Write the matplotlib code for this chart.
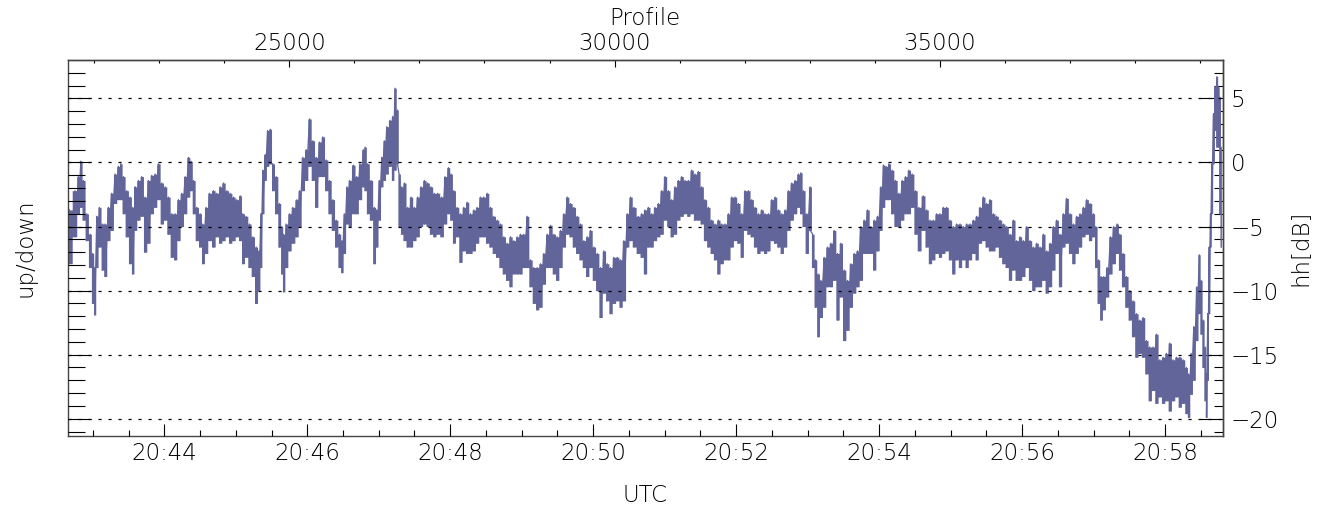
import numpy as np
import matplotlib
matplotlib.use("Agg")
import matplotlib.pyplot as plt
from matplotlib.ticker import FixedLocator, FuncFormatter, NullFormatter

# Tiempo en segundos despues de las 20:42:00 UTC
segundos = [
    40.3, 45.1, 47.9, 49.9, 52.1, 54.9, 57.7, 59.9, 61.6, 63.3,
    65.5, 68.3, 70.3, 73.1, 75.9, 78.7, 81.5, 83.5, 85.7, 88.5,
    91.3, 93.5, 95.5, 98.3, 101.1, 103.9, 106.7, 109.5, 112.3, 115.1,
    117.9, 120.7, 123.5, 126.3, 129.1, 131.9, 134.7, 137.5, 140.3, 142.5,
    144.5, 147.3, 150.1, 152.3, 155.1, 157.9, 161.3, 164.1, 166.9, 169.7,
    172.5, 175.3, 178.1, 180.9, 183.7, 185.9, 188.7, 191.5, 194.3, 197.1,
    199.4, 201.1, 202.7, 204.7, 206.7, 208.9, 211.1, 213.9, 216.7, 218.7,
    220.1, 222.3, 225.1, 227.9, 231.3, 233.5, 236.3, 239.1, 241.9, 244.7,
    247.5, 250.3, 253.1, 255.9, 258.7, 261.5, 264.3, 267.1, 269.1, 271.1,
    273.3, 275.5,
    278.7, 281.5, 284.3, 287.1, 288.5, 290.7, 293.5, 296.3, 298.3, 300.5,
    302.5, 304.7, 306.7, 309.5, 311.7, 313.7, 315.7, 317.1, 319.3, 321.5,
    324.3, 327.1, 329.9, 332.7, 335.5, 338.3, 341.1, 343.9, 346.7, 349.5,
    352.9, 355.7, 358.5, 360.7, 363.0, 365.8, 368.6, 371.4, 374.2, 377.0,
    379.8, 382.6, 385.4, 388.2, 391.0, 393.8, 396.6, 399.4, 402.2, 405.0,
    407.8, 410.6, 413.4, 416.2, 419.0, 421.8, 424.6, 427.4, 430.2, 433.0,
    435.8, 438.6, 441.4, 444.2, 447.0, 449.8, 452.6, 455.4, 458.2, 461.0,
    463.8, 466.6, 469.4, 472.2, 475.0, 477.8, 480.6, 483.4, 486.2, 489.0,
    491.8, 494.6, 497.4, 500.2, 503.0, 505.8, 508.6, 511.4, 514.2,
    517.9, 520.7, 523.5, 526.3, 529.1, 531.9, 534.7, 537.5, 540.3, 543.1,
    545.9, 548.7, 551.5, 554.3, 557.1, 559.9, 562.7, 565.5, 568.3, 571.1,
    573.9, 576.7, 579.5, 582.3, 585.1, 587.9, 590.7, 593.5, 596.3, 599.1,
    601.9, 604.7, 607.5, 610.3, 613.1, 615.9, 618.7, 621.5, 624.3, 627.1,
    629.9, 632.7, 635.5, 638.3, 641.1, 643.9, 646.7, 649.5, 652.3, 654.3,
    656.5, 659.3, 662.1, 664.3, 666.6, 668.8, 671.1,
    673.9, 676.7, 679.5, 682.3, 685.1, 687.9, 690.7, 693.5, 696.3, 699.1,
    701.9, 704.7, 707.5, 710.3, 713.1, 715.9, 718.7, 721.5, 723.7, 725.9,
    728.2, 731.0, 733.8, 736.6, 739.4, 742.2, 745.0, 747.8, 750.6, 753.4,
    757.1, 759.9, 762.7, 765.5, 768.3, 771.1, 773.9, 776.7, 779.5, 782.3,
    785.1, 787.9, 790.7, 793.5, 796.3, 799.1, 801.9, 804.7, 807.5, 810.3,
    813.1, 815.9, 818.7, 821.5, 824.3, 827.1, 829.9, 832.7, 835.5, 838.3,
    841.1, 843.9, 846.7, 849.5, 852.3, 855.1, 857.9, 860.7, 863.5, 866.3,
    869.1, 871.9, 874.7, 877.5, 880.3, 883.1, 885.9, 888.7, 891.5, 894.3,
    897.1, 899.9, 901.9, 904.1, 906.3, 908.6, 911.4, 914.2, 917.0, 919.8,
    922.0, 924.8, 927.6, 930.4, 933.2, 936.0, 938.8, 941.6, 944.4, 947.2,
    950.0, 952.8, 955.6, 958.4, 961.2, 964.0, 966.8, 969.6, 972.4, 975.2,
    978.0, 979.7, 981.9, 984.2, 986.7, 988.7, 990.3, 992.0, 993.7, 994.8,
    995.9, 997.1, 998.2, 999.3, 1000.7, 1002.1, 1003.5, 1004.9, 1006.0, 1007.1,
]

# Borde superior de la traza hh [dB]
hhAlto = [
    -3.7, -2.2, -1.1, 0.1, -1.4, -4.0, -5.6, -7.1, -8.2, -4.2,
    -3.5, -4.8, -4.8, -3.5, -2.4, -0.9, -0.3, -0.1, -1.1, -2.2,
    -2.7, -3.5, -1.9, -1.4, -1.1, -2.7, -1.4, -1.0, -0.9, -0.1,
    -1.6, -1.9, -2.7, -4.0, -4.0, -2.9, -2.4, -1.1, 0.4, 0.1,
    -1.4, -3.5, -4.0, -4.8, -3.5, -2.4, -2.2, -2.4, -1.9, -1.6,
    -2.2, -2.4, -2.7, -2.9, -2.6, -4.0, -4.2, -4.8, -5.8, -6.6,
    -6.9, -4.0, -0.6, 0.6, 2.5, 2.6, -0.1, -1.1, -3.2, -5.0,
    -5.6, -4.8, -4.0, -3.5, -2.9, -2.2, 0.4, 1.0, 3.4, 1.7,
    0.4, 1.6, 2.0, 0.2, -1.4, -2.9, -4.5, -5.6, -6.1, -4.0,
    -1.9, -1.4,
    -0.2, -1.1, -0.1, 1.0, 1.2, -0.1, -1.4, -3.5, -3.7, -1.4,
    0.4, 1.7, 2.8, 3.3, 3.6, 5.8, 4.1, -0.9, -1.9, -1.6,
    -3.5, -2.7, -3.5, -2.7, -1.9, -1.4, -1.6, -1.9, -2.4, -2.4,
    -2.7, -1.1, -0.4, -0.9, -2.2, -3.5, -4.0, -3.5, -3.1, -4.0,
    -3.7, -3.5, -2.7, -2.7, -2.4, -3.5, -4.2, -4.5, -4.8, -5.8,
    -6.3, -5.8, -6.1, -5.8, -5.6, -5.6, -4.2, -7.6, -8.2, -8.2,
    -7.9, -7.1, -5.6, -4.9, -5.6, -5.8, -5.3, -4.0, -2.7, -3.2,
    -3.5, -4.2, -4.8, -6.1, -5.8, -5.3, -6.6, -7.1, -8.2, -6.9,
    -7.9, -8.2, -7.4, -7.4, -7.6, -6.1, -4.0, -2.7, -3.5,
    -4.2, -4.0, -3.7, -3.5, -4.0, -3.5, -3.2, -2.2, -1.1, -2.2,
    -2.9, -1.9, -1.4, -1.1, -1.4, -1.4, -0.6, -0.9, -0.7, -1.9,
    -2.9, -3.5, -4.5, -4.8, -4.5, -4.8, -4.8, -4.0, -2.7, -2.7,
    -3.2, -4.0, -2.2, -2.2, -2.9, -3.5, -4.0, -3.7, -4.0, -4.0,
    -2.9, -2.7, -3.7, -4.0, -3.7, -2.2, -1.6, -1.4, -0.9, -0.8,
    -2.2, -4.0, -1.9, -5.6, -7.6, -8.7, -9.2,
    -7.4, -6.6, -6.3, -5.3, -7.1, -6.3, -8.4, -9.2, -7.9, -7.1,
    -6.9, -5.0, -4.5, -3.7, -5.0, -4.5, -4.2, -1.9, -0.2, -0.3,
    -0.1, -0.6, -1.4, -2.4, -1.4, -1.1, -0.6, -0.9, -2.2, -3.5,
    -2.6, -3.7, -4.5, -4.5, -4.0, -4.0, -3.5, -3.5, -4.5, -5.0,
    -4.8, -4.8, -5.0, -4.8, -4.8, -4.5, -4.2, -3.5, -2.7, -3.2,
    -2.9, -4.0, -4.2, -4.5, -4.8, -5.0, -5.6, -4.5, -6.1, -5.8,
    -6.1, -5.0, -6.1, -6.6, -6.3, -6.6, -5.6, -6.9, -6.3, -5.0,
    -4.5, -5.6, -4.0, -2.8, -4.0, -4.8, -4.2, -4.0, -3.5, -2.9,
    -3.2, -4.0, -5.0, -7.6, -8.9, -8.9, -8.2, -5.8, -5.0, -4.8,
    -5.6, -7.1, -8.9, -10.0, -10.8, -11.8, -12.3, -12.1, -13.9, -14.4,
    -14.4, -13.4, -15.4, -15.2, -14.9, -14.1, -15.4, -15.2, -15.2, -15.4,
    -16.0, -16.5, -14.9, -12.8, -9.7, -7.2, -9.2, -12.3, -14.4, -16.5,
    -11.8, -6.6, -4.0, -0.1, 3.8, 5.9, 6.7, 5.9, 5.1, 1.2,
]

# Borde inferior de la traza hh [dB]
hhBajo = [
    -7.9, -5.8, -4.0, -3.5, -4.5, -6.1, -8.2, -11.0, -11.9, -8.2,
    -6.6, -8.4, -8.9, -6.1, -5.3, -3.2, -2.9, -2.9, -4.0, -5.8,
    -7.9, -8.7, -5.3, -4.5, -4.2, -7.0, -6.3, -4.0, -3.5, -2.9,
    -4.8, -4.5, -5.6, -7.4, -7.6, -6.1, -5.0, -4.0, -2.7, -2.2,
    -4.0, -6.1, -6.6, -7.9, -7.1, -6.1, -6.6, -5.8, -6.3, -6.1,
    -5.8, -6.3, -6.1, -5.8, -6.1, -7.9, -7.4, -8.2, -8.9, -11.0,
    -10.0, -8.2, -4.0, -1.4, -0.3, -0.1, -2.2, -4.0, -6.6, -8.7,
    -10.1, -8.2, -6.9, -6.3, -5.8, -5.0, -2.2, -1.4, -0.3, -1.4,
    -3.5, -1.1, -1.1, -2.2, -4.0, -5.3, -6.6, -8.2, -8.6, -7.1,
    -4.8, -5.0,
    -4.0, -4.0, -2.9, -1.9, -2.2, -4.0, -4.5, -7.9, -6.6, -4.5,
    -1.9, -1.4, -0.9, -0.3, -1.4, -0.6, -0.1, -5.0, -5.6, -6.1,
    -6.6, -6.6, -6.1, -5.8, -5.0, -4.8, -5.0, -5.6, -5.8, -5.6,
    -5.8, -4.8, -4.0, -4.5, -6.3, -5.8, -7.8, -6.9, -7.1, -7.1,
    -6.9, -6.3, -5.8, -5.8, -6.3, -6.6, -7.1, -7.4, -8.2, -8.7,
    -9.2, -9.7, -8.7, -8.7, -8.7, -8.2, -8.2, -9.7, -11.0, -11.5,
    -11.3, -9.5, -8.2, -8.2, -8.7, -9.2, -8.2, -6.6, -5.6, -5.8,
    -6.6, -7.1, -7.6, -8.2, -8.9, -8.2, -9.2, -10.0, -12.1, -10.2,
    -10.8, -11.8, -11.0, -10.8, -11.3, -10.8, -6.6, -6.1, -6.6,
    -7.1, -7.4, -8.7, -6.6, -6.6, -6.1, -5.8, -5.6, -4.5, -5.0,
    -5.8, -5.6, -4.5, -4.2, -4.0, -4.2, -4.0, -4.5, -4.5, -4.8,
    -6.1, -6.6, -7.1, -7.6, -8.7, -7.9, -7.6, -7.6, -6.6, -6.1,
    -6.3, -7.4, -5.3, -5.6, -5.8, -6.6, -7.1, -6.9, -7.1, -6.9,
    -6.1, -6.3, -6.6, -7.1, -6.6, -5.3, -4.5, -4.0, -3.5, -4.0,
    -5.0, -7.1, -5.3, -8.2, -11.3, -13.6, -12.1,
    -11.3, -9.7, -9.7, -9.2, -12.3, -10.5, -13.9, -13.1, -11.3, -10.2,
    -9.7, -9.2, -7.1, -7.1, -7.1, -8.4, -6.9, -5.3, -3.5, -2.9,
    -2.9, -4.0, -5.0, -5.0, -4.5, -4.0, -4.0, -3.5, -5.6, -6.9,
    -5.3, -6.6, -7.9, -7.6, -7.1, -7.4, -7.1, -6.9, -7.6, -8.7,
    -7.6, -8.2, -7.6, -8.2, -7.6, -7.1, -7.6, -6.3, -6.1, -6.6,
    -6.9, -6.9, -6.6, -7.4, -7.9, -8.2, -9.2, -8.4, -9.2, -9.2,
    -8.9, -8.2, -9.2, -10.0, -9.7, -9.7, -9.2, -10.2, -9.7, -8.4,
    -7.1, -9.7, -6.6, -6.3, -7.1, -7.9, -7.1, -6.6, -5.8, -5.6,
    -6.1, -5.8, -8.2, -11.0, -12.3, -11.5, -10.5, -8.7, -7.9, -7.1,
    -8.4, -9.7, -11.3, -12.3, -13.6, -15.2, -14.9, -15.2, -16.5, -18.6,
    -17.8, -18.8, -18.3, -18.8, -18.6, -19.4, -18.6, -18.3, -19.1, -18.8,
    -19.6, -19.9, -18.1, -17.0, -13.9, -11.8, -13.4, -16.0, -18.6, -19.9,
    -17.0, -11.8, -6.6, -4.0, -0.1, 2.5, 1.2, 1.2, -4.0, -6.6,
]

# Relacion tiempo -> numero de perfil (eje superior)
perfilRef = 25000
segundoRef = 224.9
perfilesPorSegundo = 18.31

colorTraza = '#62659a'


def aPerfil(s):
    return perfilRef + (np.asarray(s) - segundoRef) * perfilesPorSegundo


def aSegundo(p):
    return segundoRef + (np.asarray(p) - perfilRef) / perfilesPorSegundo


def graficarPerfilHH():
    plt.rcParams['font.family'] = ['DejaVu Sans']
    plt.rcParams['font.weight'] = 'light'
    plt.rcParams['font.size'] = 16.5

    t = np.array(segundos)
    alto = np.array(hhAlto)
    bajo = np.array(hhBajo)

    fig = plt.figure(figsize=(13.29, 5.12), dpi=100)
    ax = fig.add_axes([0.0512, 0.1484, 0.8687, 0.7344])

    # Banda de la senal (escalonada) y trazo en zigzag entre los bordes
    ax.fill_between(t, bajo, alto, step='mid', color=colorTraza, linewidth=0, zorder=1)
    ax.plot(np.repeat(t, 2), np.column_stack([alto, bajo]).ravel(),
            color=colorTraza, linewidth=0.9, zorder=2)

    ax.set_xlim(39.2, 1008.3)
    ax.set_ylim(-21.35, 8.0)

    # Eje inferior: UTC
    ax.xaxis.set_major_locator(FixedLocator(np.arange(120, 1000, 120)))
    ax.xaxis.set_minor_locator(FixedLocator(np.arange(60, 1000, 30)))
    ax.xaxis.set_major_formatter(FuncFormatter(lambda s, _: f"20:{42 + int(round(s)) // 60:02d}"))
    ax.tick_params(axis='x', which='major', direction='in', length=8.6, width=0.8, pad=4.3, top=False)
    ax.tick_params(axis='x', which='minor', direction='in', length=4.3, width=0.8, top=False)

    # Eje izquierdo sin etiquetas
    ax.yaxis.set_major_locator(FixedLocator(np.arange(-20, 8, 5)))
    ax.yaxis.set_minor_locator(FixedLocator(np.arange(-21, 8, 1)))
    ax.yaxis.set_major_formatter(NullFormatter())
    ax.tick_params(axis='y', which='major', direction='in', length=16.6, width=0.8, right=False, labelleft=False)
    ax.tick_params(axis='y', which='minor', direction='in', length=12.2, width=0.8, right=False)

    ax.grid(axis='y', which='major', color='black', linestyle=(0, (2.5, 5.5)), linewidth=0.9)
    ax.set_axisbelow(False)

    # Eje derecho con dB
    derecha = ax.secondary_yaxis('right')
    derecha.yaxis.set_major_locator(FixedLocator(np.arange(-20, 8, 5)))
    derecha.yaxis.set_minor_locator(FixedLocator(np.arange(-21, 8, 1)))
    derecha.tick_params(which='major', direction='in', length=16.6, width=0.8, pad=6)
    derecha.tick_params(which='minor', direction='in', length=6.5, width=0.8)

    # Eje superior: numero de perfil
    arriba = ax.secondary_xaxis('top', functions=(aPerfil, aSegundo))
    arriba.xaxis.set_major_locator(FixedLocator(np.arange(25000, 39001, 5000)))
    arriba.xaxis.set_minor_locator(FixedLocator(np.arange(22000, 39001, 1000)))
    arriba.tick_params(which='major', direction='in', length=5, width=0.8, pad=3.6)
    arriba.tick_params(which='minor', direction='in', length=2.2, width=0.8)

    for eje in (ax, derecha, arriba):
        for spine in eje.spines.values():
            spine.set_color('#444444')
            spine.set_linewidth(1.0)

    fig.text(0.4853, 0.9648, "Profile", ha='center', va='center')
    fig.text(0.4853, 0.0332, "UTC", ha='center', va='center')
    fig.text(0.0188, 0.5156, "up/down", ha='center', va='center', rotation=90)
    fig.text(0.978, 0.5156, "hh[dB]", ha='center', va='center', rotation=90)

    fig.savefig("out.png", dpi=100)


graficarPerfilHH()
